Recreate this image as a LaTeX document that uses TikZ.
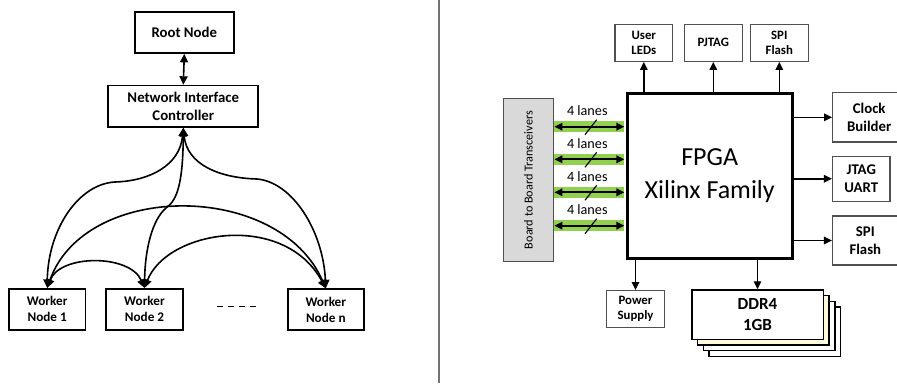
\documentclass[tikz,border=0pt]{standalone}
\usepackage{fontspec}
\setmainfont{Carlito}
\usetikzlibrary{arrows.meta}
\definecolor{lanegreen}{RGB}{146,208,80}
\definecolor{bbtgray}{RGB}{217,217,217}
\definecolor{cream}{RGB}{255,252,222}
\definecolor{boxgray}{RGB}{80,80,80}
\tikzset{
  lbox/.style={draw=black, line width=1.7pt, inner sep=0pt, align=center, font=\bfseries},
  rbox/.style={draw=boxgray, line width=1.4pt, fill=white, inner sep=0pt, align=center, font=\bfseries},
  conn/.style={line width=1.6pt, {Triangle[length=8.5pt,width=8pt]}-{Triangle[length=8.5pt,width=8pt]}},
  outarr/.style={line width=1.4pt, -{Triangle[length=8pt,width=7.5pt]}},
  lanearr/.style={line width=1.8pt, {Triangle[length=8pt,width=7.5pt]}-{Triangle[length=8pt,width=7.5pt]}},
  band/.style={lanegreen, line width=10.5pt},
}
\begin{document}
\begin{tikzpicture}[x=1pt,y=-1pt]
\useasboundingbox (0,0) rectangle (897,385);
% ---------------- left panel ----------------
\node[lbox, minimum width=98.7pt, minimum height=41pt, font=\bfseries\fontsize{14.8}{17}\selectfont] (root) at (184.3,32.5) {Root Node};
\node[lbox, minimum width=150pt, minimum height=41.3pt, font=\bfseries\fontsize{14.8}{17.5}\selectfont] (nic) at (183.3,106.3) {Network Interface\\Controller};
\node[lbox, minimum width=76.3pt, minimum height=41pt, font=\bfseries\fontsize{13.2}{16}\selectfont] (w1) at (47.2,309.2) {Worker\\Node 1};
\node[lbox, minimum width=76.4pt, minimum height=41pt, font=\bfseries\fontsize{13.2}{16}\selectfont] (w2) at (144.5,309.3) {Worker\\Node 2};
\node[lbox, minimum width=76.3pt, minimum height=41pt, font=\bfseries\fontsize{13.2}{16}\selectfont] (wn) at (325.8,309.7) {Worker\\Node n};
\coordinate (dotsA) at (217,306.7);
\coordinate (dotsB) at (259,306.7);
\draw[line width=1.3pt, dash pattern=on 6pt off 5pt] (dotsA) -- (dotsB);

\draw[conn] (root.south) -- (nic.north);
\draw[conn] (nic.south) .. controls (180,165) and (150,181) .. (115,182) .. controls (78,184) and (48,230) .. (w1.north);
\draw[conn] (nic.south) .. controls (187,165) and (220,178) .. (257,179) .. controls (292,182) and (323,230) .. (wn.north);
\draw[conn] (nic.south) .. controls (183,180) and (178,200) .. (166,208) .. controls (152,220) and (145,250) .. (w2.north);
\draw[conn] (w1.north) .. controls (85,181) and (279,181) .. (wn.north);
\draw[conn] (w1.north) .. controls (60,254) and (130,254) .. (w2.north);
\draw[conn] (w2.north) .. controls (167,230) and (284,211) .. (wn.north);

% divider
\coordinate (divtop) at (438.7,0);
\coordinate (divbot) at (438.7,383);
\draw[line width=1.6pt, black!55] (divtop) -- (divbot);

% ---------------- right panel ----------------
\node[draw=black, line width=3pt, minimum width=164.7pt, minimum height=164.6pt, inner sep=0pt, align=center, font=\fontsize{26}{33}\selectfont] (fpga) at (709.7,176) {FPGA\\Xilinx Family};

\node[rbox, minimum width=57.7pt, minimum height=37pt, font=\bfseries\fontsize{12.8}{15}\selectfont] (leds) at (643.8,42.8) {User\\LEDs};
\node[rbox, minimum width=58pt, minimum height=37pt, font=\bfseries\fontsize{12.8}{15}\selectfont] (pjtag) at (713.3,42.8) {PJTAG};
\node[rbox, minimum width=58pt, minimum height=37pt, font=\bfseries\fontsize{12.8}{15}\selectfont] (spit) at (779.3,42.8) {SPI\\Flash};

\node[rbox, minimum width=73pt, minimum height=49.3pt, font=\bfseries\fontsize{14.8}{18}\selectfont] (clk) at (869.2,117.3) {Clock\\Builder};
\node[rbox, minimum width=57.3pt, minimum height=45pt, font=\bfseries\fontsize{14.8}{18}\selectfont] (jtag) at (861.3,178.8) {JTAG\\UART};
\node[rbox, minimum width=65.3pt, minimum height=49pt, font=\bfseries\fontsize{14.8}{18}\selectfont] (spir) at (865.3,240.5) {SPI\\Flash};

\node[rbox, fill=bbtgray, minimum width=50.4pt, minimum height=162.6pt] (bbt) at (528.5,180) {};
\node[rotate=90, font=\fontsize{12.2}{15}\selectfont] (bbtlabel) at (bbt.center) {Board to Board Transceivers};

\node[rbox, minimum width=57.6pt, minimum height=37pt, font=\bfseries\fontsize{12.8}{15}\selectfont] (ps) at (635.5,309.2) {Power\\Supply};

% DDR stack
\foreach \k/\f in {3/white,2/white,1/cream}{
  \node[draw=black, line width=1.3pt, fill=\f, minimum width=131.6pt, minimum height=49.3pt, inner sep=0pt] (ddr\k) at ({757.5+5.8*\k},{314.7+5.6*\k}) {};
}
\node[draw=black, line width=1.6pt, fill=white, minimum width=131.6pt, minimum height=49.3pt, inner sep=0pt, align=center, font=\bfseries\fontsize{17}{21}\selectfont] (ddr) at (757.5,314.7) {DDR4\\1GB};

% arrows out of FPGA
\draw[outarr] (fpga.north -| leds) -- (leds.south);
\draw[outarr] (fpga.north -| pjtag) -- (pjtag.south);
\draw[outarr] (fpga.north -| spit) -- (spit.south);
\draw[outarr] (fpga.east |- clk) -- (clk.west);
\draw[outarr] (fpga.east |- jtag) -- (jtag.west);
\draw[outarr] (fpga.east |- spir) -- (spir.west);
\draw[outarr] (fpga.south -| ps) -- (ps.north);
\draw[outarr] (fpga.south -| ddr) -- (ddr.north);

% lanes
\foreach \i/\y in {1/126.7,2/159.3,3/192.3,4/225.7}{
  \coordinate (lane\i) at (540,\y);
  \draw[band] (bbt.east |- lane\i) -- ([xshift=-1.5pt]fpga.west |- lane\i);
  \draw[lanearr] (bbt.east |- lane\i) -- ([xshift=-1.5pt]fpga.west |- lane\i);
  \coordinate (slashA\i) at (585,\y+8);
  \coordinate (slashB\i) at (596.7,\y-7);
  \draw[line width=1.1pt] (slashA\i) -- (slashB\i);
  \node[font=\fontsize{14.2}{16}\selectfont, inner sep=0pt] (lanelbl\i) at (587.3,\y-16) {4 lanes};
}
\end{tikzpicture}
\end{document}
